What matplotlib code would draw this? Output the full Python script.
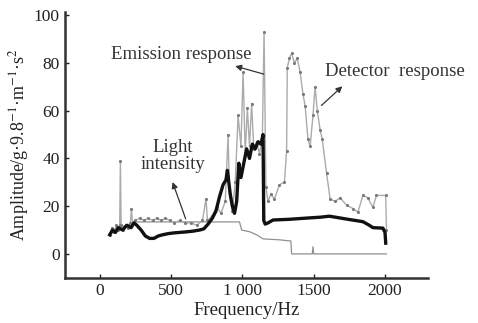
import matplotlib
matplotlib.use("Agg")
import matplotlib.pyplot as plt

plt.rcParams['font.family'] = ['Liberation Serif', 'DejaVu Serif']
plt.rcParams['mathtext.fontset'] = 'stix'

# detector response (grey line with small markers)
det_freq = [70, 85, 100, 115, 130, 140, 145, 150, 165, 185, 200, 215, 222, 230,
            250, 280, 310, 340, 370, 400, 430, 460, 490, 520, 560, 600, 640, 680,
            720, 745, 755, 790, 820, 850, 880, 900, 910, 930, 950, 970, 990, 1005,
            1020, 1035, 1050, 1065, 1080, 1100, 1120, 1140, 1152, 1165, 1180, 1200,
            1225, 1260, 1295, 1310, 1315, 1330, 1345, 1365, 1385, 1405, 1425, 1440,
            1460, 1475, 1495, 1510, 1525, 1545, 1560, 1590, 1615, 1650, 1685, 1730,
            1775, 1810, 1845, 1880, 1915, 1940, 2005, 2010]
det_amp = [8, 11, 9, 12, 10, 12, 39, 12, 10, 12, 11, 13, 19, 13,
           14, 15, 14, 15, 14, 15, 14, 15, 14, 13, 14, 13, 13, 12,
           14, 23, 14, 16, 20, 17, 22, 50, 25, 18, 30, 58, 45, 76,
           42, 61, 45, 63, 44, 47, 42, 48, 93, 28, 22, 25,
           23, 29, 30, 43, 78, 82, 84, 80, 82, 76, 67, 62,
           48, 45, 58, 70, 60, 52, 48, 34, 23, 22, 23.5, 20.5,
           19, 17.5, 24.5, 23.5, 19.5, 24.5, 24.5, 10]

# emission response (thick black line)
emi_freq = [70, 90, 110, 130, 160, 190, 220, 240, 260, 290, 320, 350, 380, 410,
            440, 480, 520, 560, 600, 650, 700, 730, 760, 790, 815, 840, 865, 885,
            895, 905, 915, 930, 945, 960, 975, 990, 1010, 1030, 1050, 1070, 1090,
            1110, 1130, 1145, 1150, 1160, 1180, 1215, 1330, 1450, 1550, 1610, 1730,
            1845, 1890, 1915, 1985, 2000, 2005]
emi_amp = [8, 10, 9, 11, 10, 12, 11, 13, 12, 10, 7.5, 6.5, 6.5, 7.5,
           8, 8.5, 8.8, 9, 9.2, 9.5, 10, 10.5, 12.5, 15, 18, 24, 29, 31,
           35, 30, 25, 20, 17, 22, 38, 32, 38, 44, 40, 46, 44,
           47, 46, 50, 14, 12.5, 13, 14.2, 14.5, 15, 15.4, 15.8, 14.6,
           13.5, 12, 11, 10.8, 9, 4.5]

# light intensity (thin grey staircase)
light_freq = [90, 120, 200, 250, 980, 995, 1050, 1100, 1145, 1260, 1340, 1345,
              1490, 1495, 1500, 2010]
light_amp = [9, 11, 12, 13.4, 13.4, 10, 9.3, 8, 6.3, 5.9, 5.4, 0,
             0, 3, 0, 0]

xticks = [0, 500, 1000, 1500, 2000]
xticklabels = ['0', '500', '1 000', '1500', '2000']
yticks = [0, 20, 40, 60, 80, 100]


def main():
    fig = plt.figure(figsize=(4.78, 3.23), dpi=100)
    ax = fig.add_axes([0.137, 0.140, 0.758, 0.824])

    ax.plot(light_freq, light_amp, color='#909090', lw=0.9)
    ax.plot(det_freq, det_amp, color='#ababab', lw=1.0, marker='.', ms=2.5,
            mfc='#7a7a7a', mec='#7a7a7a')
    ax.plot(emi_freq, emi_amp, color='#111111', lw=2.4)

    ax.set_xlim(-240, 2300)
    ax.set_ylim(-10, 101.5)
    ax.set_xticks(xticks)
    ax.set_xticklabels(xticklabels)
    ax.set_yticks(yticks)
    ax.tick_params(direction='in', length=3, width=1, labelsize=12.5,
                   colors='#222222', pad=4)
    for s in ['top', 'right']:
        ax.spines[s].set_visible(False)
    for s in ['left', 'bottom']:
        ax.spines[s].set_linewidth(1.8)
        ax.spines[s].set_color('#333333')

    ax.set_xlabel('Frequency/Hz', fontsize=13.5, labelpad=2, color='#222222')
    ax.set_ylabel('Amplitude/g·9.8$^{-1}$·m$^{-1}$·s$^{2}$', fontsize=13,
                  labelpad=2, color='#222222')

    arrow = dict(arrowstyle='-|>', color='#333333', lw=0.9, mutation_scale=9)
    ax.annotate('', xy=(931, 79), xytext=(1169, 75), arrowprops=arrow)
    ax.annotate('', xy=(1715, 71), xytext=(1540, 61.4), arrowprops=arrow)
    ax.annotate('', xy=(504, 31.2), xytext=(609, 13.6), arrowprops=arrow)

    ax.text(574, 83.7, 'Emission response', fontsize=13.5, ha='center',
            va='center', color='#333333')
    ax.text(2072, 76.5, 'Detector  response', fontsize=13.5, ha='center',
            va='center', color='#333333')
    ax.text(511, 41, 'Light\nintensity', fontsize=13.5, ha='center', va='center',
            linespacing=1.0, color='#333333')

    fig.savefig('out.png', dpi=100)


if __name__ == '__main__':
    main()
